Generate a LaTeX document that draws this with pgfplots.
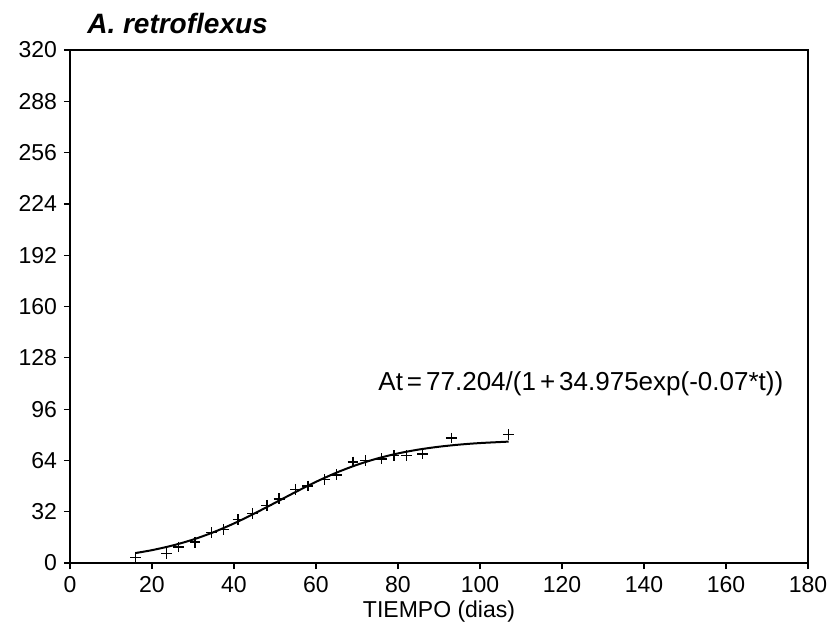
\documentclass[border=0pt]{standalone}
\usepackage{fontspec}
\setmainfont{Liberation Sans}
\usepackage{pgfplots}
\pgfplotsset{compat=1.18}

\begin{document}
\begin{tikzpicture}
\begin{axis}[
name=ax,
scale only axis,
width=369pt, height=256.5pt,
xmin=0, xmax=180, ymin=0, ymax=320,
xtick={0,20,...,180},
ytick={0,32,...,320},
tick pos=left,
tick align=outside,
major tick length=3pt,
axis line style={line width=0.9pt},
tick style={line width=0.6pt, black},
tick label style={font=\fontsize{11.5}{13}\selectfont},
/pgf/number format/assume math mode=true,
xlabel={TIEMPO (dias)},
xlabel style={font=\fontsize{11.5}{13}\selectfont, yshift=2.5pt},
clip=false,
]
% data points
\addplot [only marks, mark=+, mark size=2.7pt, line width=0.7pt] table {
x y
16 3.5
23.5 6
26.5 10
30.5 13
34.5 19
37.5 21
41 27
44.5 31
48 36
51 40
55 46
58 48
62 52
65 55
69 63
72 64
76 65
79 67
82 67
86 68
93 78
107 80
};
% fitted logistic curve
\addplot [black, line width=1pt, smooth] table {
x y
16 6.22
20 8.02
25 10.91
30 14.61
35 19.21
40 24.69
45 30.90
50 37.55
55 44.26
60 50.64
65 56.37
70 61.25
75 65.23
80 68.36
85 70.75
90 72.54
95 73.86
100 74.82
107 75.72
};
\node[anchor=west, font=\fontsize{13}{15}\selectfont] at (axis cs:73.5,111.5) {At$\,$=$\,$77.204/(1$\,$+$\,$34.975exp(-0.07*t))};
\node[anchor=base west, font=\bfseries\itshape\fontsize{14}{16}\selectfont] at (axis cs:2.5,330) {A. retroflexus};
\end{axis}
\pgfresetboundingbox
\path (ax.south west) ++(-35pt,-32pt) rectangle ++(417pt,313.5pt);
\end{tikzpicture}
\end{document}
